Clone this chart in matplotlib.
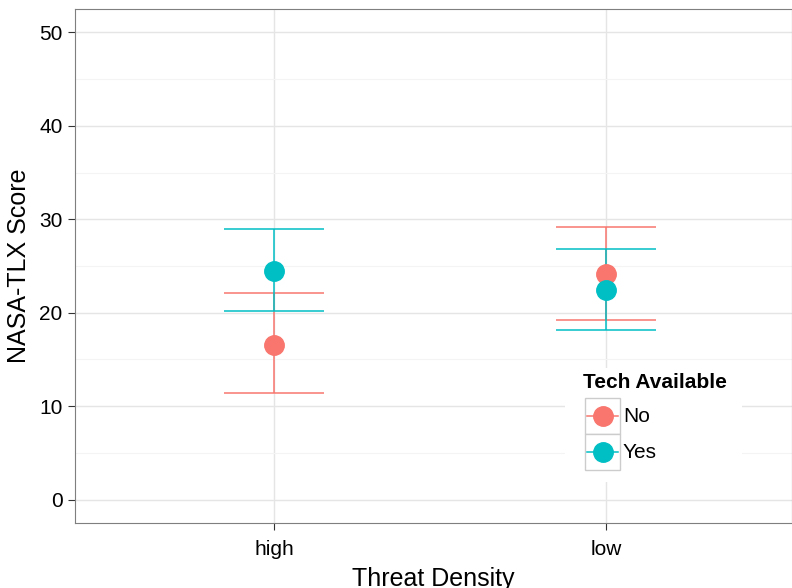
import numpy as np
import matplotlib
matplotlib.use('Agg')
import matplotlib.pyplot as plt
import matplotlib.patches as mpatches
from matplotlib.lines import Line2D
from matplotlib.ticker import MultipleLocator

plt.rcParams['font.family'] = ['Liberation Sans', 'DejaVu Sans']

# data
densities = ['high', 'low']
groups = ['No', 'Yes']
colors = {'No': '#F8766D', 'Yes': '#00BFC4'}
means = {'No': [16.6, 24.1], 'Yes': [24.5, 22.4]}
lower = {'No': [11.4, 19.2], 'Yes': [20.2, 18.2]}
upper = {'No': [22.1, 29.15], 'Yes': [29.0, 26.8]}

W, H = 792, 588
fig = plt.figure(figsize=(W / 100, H / 100), dpi=100)
# panel in pixel coords: x 75..792, y 9..523
ax = fig.add_axes([75 / W, 1 - 523 / H, (792 - 75) / W, (523 - 9) / H])

x = np.arange(1, len(densities) + 1)
for g in groups:
    c = colors[g]
    mu = np.array(means[g])
    ax.errorbar(x, mu, yerr=[mu - np.array(lower[g]), np.array(upper[g]) - mu],
                fmt='none', ecolor=c, elinewidth=1.1, capsize=36, capthick=1.1, zorder=3)
    ax.plot(x, mu, 'o', color=c, markersize=14, zorder=4)

ax.set_xlim(0.4, 2.56)
ax.set_ylim(-2.5, 52.5)
ax.set_xticks(x)
ax.set_xticklabels(densities)
ax.yaxis.set_major_locator(MultipleLocator(10))
ax.yaxis.set_minor_locator(MultipleLocator(5))
ax.grid(True, which='major', color='#E5E5E5', linewidth=1.0, zorder=0)
ax.grid(True, which='minor', axis='y', color='#F4F4F4', linewidth=0.8, zorder=0)
ax.set_axisbelow(True)
ax.tick_params(which='minor', length=0)
ax.tick_params(which='major', length=5, color='#333333', labelsize=15, labelcolor='black')
ax.tick_params(axis='x', pad=7)
ax.tick_params(axis='y', pad=4)
for s in ax.spines.values():
    s.set_color('#7F7F7F')
    s.set_linewidth(0.8)
ax.set_xlabel('Threat Density', fontsize=18, labelpad=6)
ax.set_ylabel('NASA-TLX Score', fontsize=18, labelpad=6)

# legend, drawn in pixel coords
def fx(px):
    return px / W

def fy(py):
    return 1 - py / H

fig.add_artist(mpatches.Rectangle((fx(565), fy(482)), fx(742) - fx(565), fy(368) - fy(482),
                                  transform=fig.transFigure, facecolor='white', edgecolor='none', zorder=5))
fig.text(fx(583), fy(383), 'Tech Available', fontsize=15, fontweight='bold', va='center', ha='left', zorder=6)
for i, g in enumerate(groups):
    top = 398 + 36 * i
    fig.add_artist(mpatches.Rectangle((fx(585), fy(top + 36)), fx(620) - fx(585), fy(top) - fy(top + 36),
                                      transform=fig.transFigure, facecolor='white', edgecolor='#CCCCCC',
                                      linewidth=1.0, zorder=6))
    cy = fy(top + 18)
    fig.add_artist(Line2D([fx(587), fx(618)], [cy, cy], transform=fig.transFigure,
                          color=colors[g], linewidth=1.1, zorder=7))
    fig.add_artist(Line2D([fx(602.5)], [cy], transform=fig.transFigure, marker='o',
                          color=colors[g], markersize=14, zorder=8))
    fig.text(fx(623), cy, g, fontsize=15, va='center', ha='left', zorder=7)

fig.savefig('out.png', dpi=100)
